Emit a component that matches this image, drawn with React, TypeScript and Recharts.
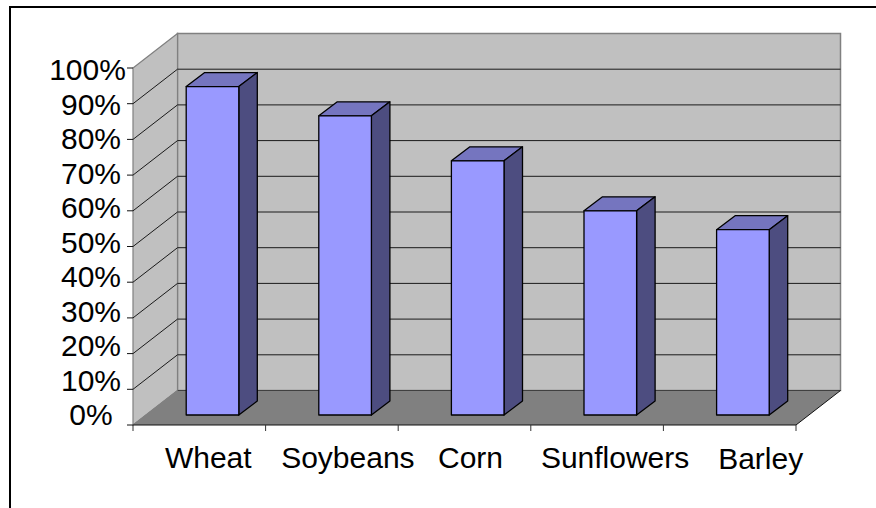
import { BarChart, Bar, XAxis, YAxis, usePlotArea } from 'recharts';

const categories = ['Wheat', 'Soybeans', 'Corn', 'Sunflowers', 'Barley'];
const shares = [92, 83.8, 71.2, 57.2, 51.9];
const percentTicks = [0, 10, 20, 30, 40, 50, 60, 70, 80, 90, 100];

// the table Recharts needs
const rows = categories.map((name, i) => ({ name, share: shares[i] }));

// oblique depth of the box and of the bars
const BOX_DX = 44.5;
const BOX_DY = 34.5;
const BAR_DX = 18.5;
const BAR_DY = 14;
const BAR_SHIFT_X = 13.2;
const BAR_SHIFT_Y = 10;

// label nudges, the original layout is a bit uneven
const xLabelDx = [9, 16, 6, 18, 31];
const xLabelBaseline = [467.5, 467.5, 467.5, 467.5, 469];

const FONT = '"Liberation Sans", Arial, sans-serif';

function Box3D() {
  const plot = usePlotArea();
  if (!plot) return null;
  const { x: left, y: top, width, height } = plot;
  const right = left + width;
  const bottom = top + height;
  const yFor = (v: number) => bottom - (height * v) / 100;
  const band = width / categories.length;
  const edges = [...categories.map((_, i) => left + band * i), right];

  return (
    <g>
      {/* back wall */}
      <rect x={left + BOX_DX} y={top - BOX_DY} width={width} height={height} fill="#c0c0c0" stroke="#808080" strokeWidth={1.5} />
      {/* side wall */}
      <polygon
        points={`${left},${top} ${left + BOX_DX},${top - BOX_DY} ${left + BOX_DX},${bottom - BOX_DY} ${left},${bottom}`}
        fill="#c0c0c0"
        stroke="#808080"
        strokeWidth={1.2}
      />
      {/* floor */}
      <polygon
        points={`${left},${bottom} ${left + BOX_DX},${bottom - BOX_DY} ${right + BOX_DX},${bottom - BOX_DY} ${right},${bottom}`}
        fill="#808080"
      />
      <line x1={left + BOX_DX} y1={bottom - BOX_DY} x2={right + BOX_DX} y2={bottom - BOX_DY} stroke="#404040" strokeWidth={1} />
      <line x1={left} y1={bottom} x2={left + BOX_DX} y2={bottom - BOX_DY} stroke="#808080" strokeWidth={1} />
      <line x1={right} y1={bottom} x2={right + BOX_DX} y2={bottom - BOX_DY} stroke="#111" strokeWidth={1} />
      {/* grid lines, both walls */}
      {percentTicks
        .filter((v) => v > 0 && v < 100)
        .map((v) => (
          <g key={v} stroke="#1a1a1a" strokeWidth={1} fill="none">
            <line x1={left} y1={yFor(v)} x2={left + BOX_DX} y2={yFor(v) - BOX_DY} />
            <line x1={left + BOX_DX} y1={yFor(v) - BOX_DY} x2={right + BOX_DX} y2={yFor(v) - BOX_DY} />
          </g>
        ))}
      {/* axis lines and tick marks */}
      <line x1={left} y1={bottom} x2={right} y2={bottom} stroke="#111" strokeWidth={1.2} />
      {percentTicks.map((v) => (
        <line key={v} x1={left - 6} y1={yFor(v)} x2={left} y2={yFor(v)} stroke="#111" />
      ))}
      {edges.map((x) => (
        <line key={x} x1={x} y1={bottom} x2={x} y2={bottom + 6} stroke="#333" />
      ))}
    </g>
  );
}

function Bar3D(props: any) {
  const { x, y, width, height } = props;
  const fx = x + BAR_SHIFT_X;
  const fy = y - BAR_SHIFT_Y;
  const r = fx + width;
  const b = fy + height;
  return (
    <g stroke="#000" strokeWidth={1.3} strokeLinejoin="round">
      <polygon points={`${fx},${fy} ${fx + BAR_DX},${fy - BAR_DY} ${r + BAR_DX},${fy - BAR_DY} ${r},${fy}`} fill="#7575bf" />
      <polygon points={`${r},${fy} ${r + BAR_DX},${fy - BAR_DY} ${r + BAR_DX},${b - BAR_DY} ${r},${b}`} fill="#4d4d80" />
      <rect x={fx} y={fy} width={width} height={height} fill="#9999ff" />
    </g>
  );
}

function PercentTick(props: any) {
  const { y, payload } = props;
  const v = payload.value;
  // labels sit on a slightly tighter pitch than the ticks
  const baseline = 80 + ((y - 68) * 345) / 357;
  return (
    <text x={v === 100 ? 87.5 : 91} y={baseline} textAnchor="middle" fontFamily={FONT} fontSize={30} fill="#000">
      {v}%
    </text>
  );
}

function CategoryTick(props: any) {
  const { x, index, payload } = props;
  return (
    <text x={x + xLabelDx[index]} y={xLabelBaseline[index]} textAnchor="middle" fontFamily={FONT} fontSize={30} fill="#000">
      {payload.value}
    </text>
  );
}

export default function App() {
  return (
    <div style={{ position: 'absolute', left: 0, top: 0, width: 876, height: 508, background: '#fff' }}>
      <div style={{ position: 'absolute', left: 9, top: 6, right: 0, bottom: 0, borderTop: '2px solid #000', borderLeft: '2px solid #000' }} />
      <BarChart
        width={876}
        height={508}
        data={rows}
        margin={{ top: 68, right: 80, bottom: 0, left: 0 }}
        barSize={52.6}
        style={{ position: 'absolute', left: 0, top: 0 }}
      >
        <Box3D />
        <XAxis dataKey="name" height={83} axisLine={false} tickLine={false} interval={0} tick={<CategoryTick />} />
        <YAxis
          width={133}
          domain={[0, 100]}
          ticks={percentTicks}
          interval={0}
          axisLine={false}
          tickLine={false}
          tick={<PercentTick />}
        />
        <Bar dataKey="share" isAnimationActive={false} shape={<Bar3D />} />
      </BarChart>
    </div>
  );
}
